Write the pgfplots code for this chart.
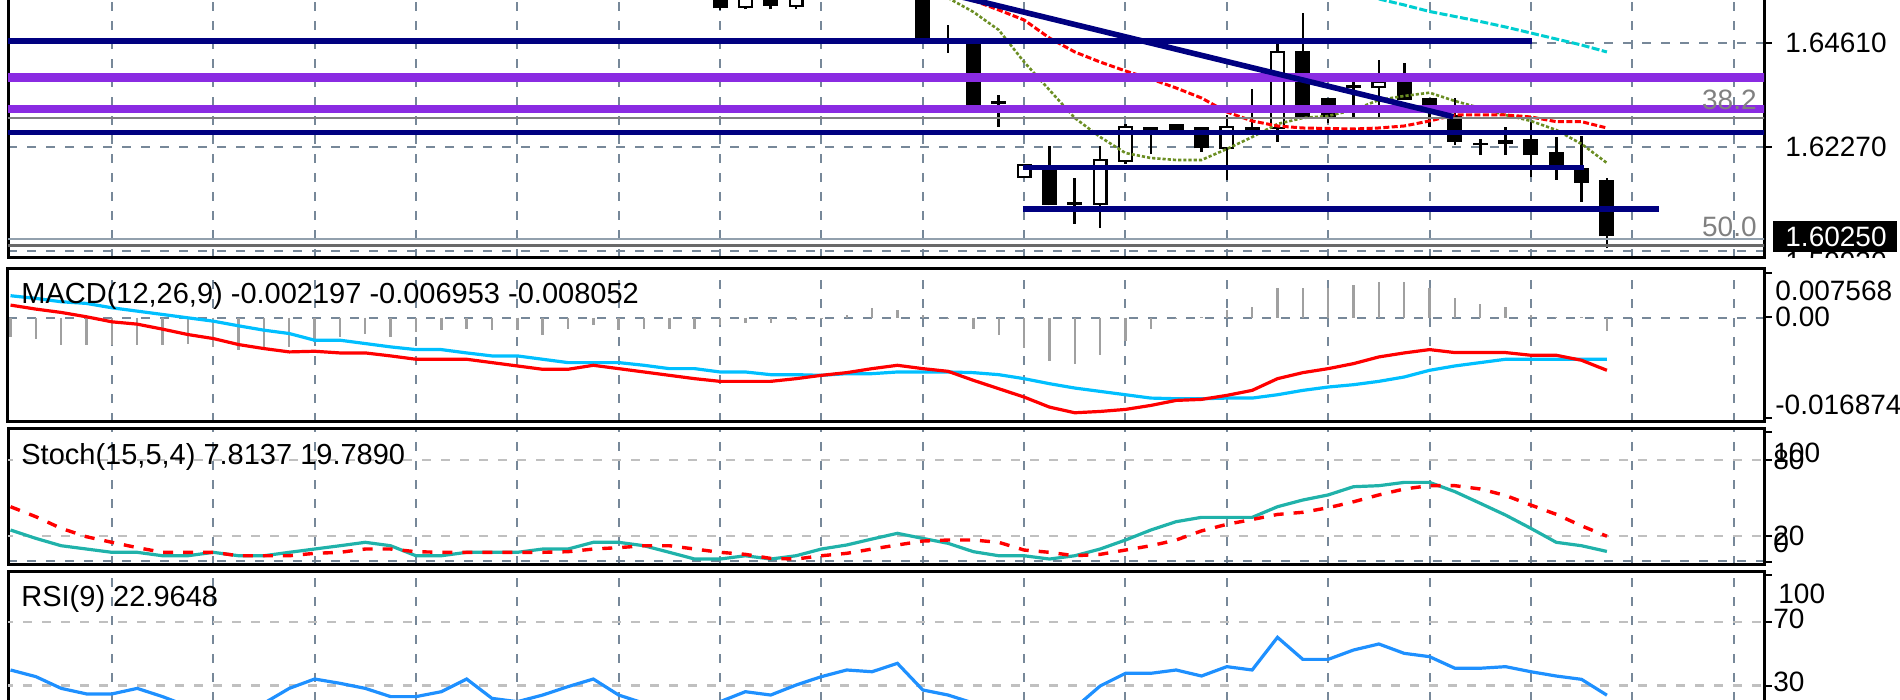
\documentclass[border=0pt]{standalone}
\usepackage{fontspec}
\setmainfont{Liberation Sans}
\usepackage{pgfplots}
\usepackage{pgfplotstable}
\pgfplotsset{compat=1.18}

\definecolor{mtnavy}{HTML}{000080}
\definecolor{mtviolet}{HTML}{8A2BE2}
\definecolor{mtgrid}{HTML}{778899}
\definecolor{mtsilver}{HTML}{C0C0C0}
\definecolor{mtolive}{HTML}{6B8E23}
\definecolor{mtturq}{HTML}{00CED1}
\definecolor{mtsky}{HTML}{00BFFF}
\definecolor{mtsea}{HTML}{20B2AA}
\definecolor{mtdodger}{HTML}{1E90FF}
\definecolor{mthist}{HTML}{A0A0A0}
\definecolor{mtdim}{HTML}{696969}
\definecolor{mtfib}{HTML}{808080}

% candles: x open high low close
\pgfplotstableread{
x o h l c
24 1.65620 1.65640 1.65350 1.65384
26 1.65620 1.65640 1.65362 1.65436
32 1.66250 1.66350 1.64709 1.64709
33 1.64700 1.65008 1.64379 1.64690
34 1.64597 1.64597 1.63209 1.63209
35 1.63290 1.63434 1.62720 1.63225
37 1.61746 1.62286 1.60950 1.60959
38 1.61026 1.61573 1.60531 1.60959
41 1.62707 1.62707 1.62106 1.62630
42 1.62781 1.62781 1.62630 1.62630
43 1.62707 1.62707 1.62158 1.62234
45 1.62707 1.63562 1.62600 1.62630
47 1.64430 1.65285 1.62945 1.62945
48 1.63359 1.63359 1.62797 1.62945
49 1.63659 1.63733 1.62945 1.63584
51 1.63733 1.64147 1.63321 1.63321
52 1.63359 1.63359 1.62720 1.63209
53 1.62984 1.63359 1.62308 1.62383
54 1.62360 1.62437 1.62083 1.62300
55 1.62421 1.62720 1.62083 1.62331
56 1.62437 1.62833 1.61595 1.62083
57 1.62158 1.62495 1.61521 1.61859
58 1.61784 1.62511 1.61033 1.61460
59 1.61521 1.61573 1.59984 1.60250
}\bear

\pgfplotstableread{
x o h l c
25 1.65420 1.65640 1.65362 1.65630
27 1.65436 1.65640 1.65362 1.65630
36 1.61595 1.61870 1.61580 1.61858
39 1.60981 1.62286 1.60448 1.61971
40 1.61955 1.62781 1.61881 1.62707
44 1.62234 1.62984 1.61521 1.62707
46 1.62684 1.64597 1.62383 1.64408
50 1.63607 1.64221 1.62945 1.63733
}\bull

% moving averages on the price panel
\pgfplotstableread{
x p
33 1.65616
34 1.65301
35 1.64896
36 1.64176
37 1.63546
38 1.62916
39 1.62488
40 1.62128
41 1.62016
42 1.61971
43 1.61971
44 1.62218
45 1.62488
46 1.62781
47 1.62916
48 1.62961
49 1.63096
50 1.63321
51 1.63411
52 1.63485
53 1.63298
54 1.63141
55 1.62984
56 1.62849
57 1.62646
58 1.62331
59 1.61904
}\olivema

\pgfplotstableread{
x p
34 1.65560
35 1.65346
36 1.65121
37 1.64716
38 1.64401
39 1.64176
40 1.63974
41 1.63794
42 1.63591
43 1.63366
44 1.63051
45 1.62849
46 1.62736
47 1.62691
48 1.62680
49 1.62668
50 1.62691
51 1.62736
52 1.62849
53 1.62984
54 1.62984
55 1.62984
56 1.62939
57 1.62833
58 1.62833
59 1.62691
}\redma

\pgfplotstableread{
x p
50 1.65593
51 1.65459
52 1.65312
53 1.65200
54 1.65087
55 1.64963
56 1.64828
57 1.64693
58 1.64558
59 1.64401
}\cyanma

% MACD: histogram, red line, blue line
\pgfplotstableread{
x h m s
-4 -0.00322 0.00211 0.00368
-3 -0.00349 0.00144 0.00323
-2 -0.00450 0.00088 0.00267
-1 -0.00450 0.00015 0.00239
0 -0.00450 -0.00069 0.00166
1 -0.00461 -0.00108 0.00110
2 -0.00450 -0.00192 0.00054
3 -0.00433 -0.00282 -0.00002
4 -0.00490 -0.00349 -0.00058
5 -0.00545 -0.00450 -0.00136
6 -0.00545 -0.00517 -0.00209
7 -0.00490 -0.00573 -0.00265
8 -0.00405 -0.00562 -0.00377
9 -0.00322 -0.00590 -0.00377
10 -0.00265 -0.00590 -0.00433
11 -0.00322 -0.00640 -0.00489
12 -0.00238 -0.00696 -0.00534
13 -0.00209 -0.00696 -0.00534
14 -0.00192 -0.00696 -0.00590
15 -0.00209 -0.00752 -0.00640
16 -0.00209 -0.00808 -0.00640
17 -0.00293 -0.00864 -0.00696
18 -0.00192 -0.00864 -0.00752
19 -0.00125 -0.00797 -0.00752
20 -0.00209 -0.00853 -0.00752
21 -0.00181 -0.00909 -0.00797
22 -0.00181 -0.00965 -0.00853
23 -0.00192 -0.01021 -0.00853
24 -0.00125 -0.01066 -0.00909
25 -0.00097 -0.01066 -0.00909
26 -0.00097 -0.01066 -0.00954
27 -0.00041 -0.01021 -0.00954
28 -0.00013 -0.00965 -0.00965
29 0.00043 -0.00920 -0.00937
30 0.00155 -0.00853 -0.00937
31 0.00127 -0.00797 -0.00909
32 0.00043 -0.00853 -0.00909
33 -0.00010 -0.00898 -0.00909
34 -0.00181 -0.01049 -0.00920
35 -0.00293 -0.01189 -0.00954
36 -0.00500 -0.01329 -0.01021
37 -0.00730 -0.01497 -0.01105
38 -0.00769 -0.01592 -0.01178
39 -0.00618 -0.01570 -0.01234
40 -0.00394 -0.01536 -0.01290
41 -0.00181 -0.01469 -0.01346
42 -0.00013 -0.01385 -0.01357
43 0.00005 -0.01368 -0.01357
44 0.00127 -0.01301 -0.01346
45 0.00182 -0.01217 -0.01346
46 0.00491 -0.01021 -0.01290
47 0.00491 -0.00920 -0.01217
48 0.00491 -0.00853 -0.01161
49 0.00547 -0.00769 -0.01122
50 0.00602 -0.00657 -0.01066
51 0.00602 -0.00590 -0.00993
52 0.00491 -0.00534 -0.00881
53 0.00334 -0.00584 -0.00808
54 0.00222 -0.00584 -0.00752
55 0.00182 -0.00584 -0.00696
56 0.00043 -0.00629 -0.00696
57 0.00015 -0.00629 -0.00696
58 0.00005 -0.00713 -0.00696
59 -0.00220 -0.00881 -0.00695
}\macd

% Stochastic: main (k) and signal (d)
\pgfplotstableread{
x k d
-4 24.7 43.1
-3 18.1 35.2
-2 12.3 26.0
-1 9.7 19.4
0 7.1 15.0
1 7.1 10.8
2 4.4 7.1
3 4.4 7.1
4 7.1 7.1
5 4.4 4.4
6 4.4 4.4
7 7.1 4.4
8 9.7 6.3
9 12.3 7.1
10 15.0 9.7
11 12.3 9.7
12 4.4 7.6
13 4.4 7.1
14 7.1 7.1
15 7.1 7.1
16 7.1 7.1
17 9.7 7.1
18 9.7 7.6
19 15.0 9.7
20 15.0 10.8
21 12.3 12.3
22 7.1 12.3
23 1.8 9.7
24 1.8 7.1
25 4.4 5.5
26 1.8 2.3
27 4.4 1.8
28 9.7 4.4
29 12.9 6.3
30 17.6 9.7
31 22.1 12.9
32 18.1 16.0
33 14.2 16.8
34 7.6 16.8
35 4.4 15.0
36 4.4 8.9
37 1.8 7.1
38 4.4 4.4
39 9.7 5.5
40 16.8 8.9
41 24.7 12.3
42 31.3 16.8
43 34.7 24.0
44 34.7 29.2
45 34.7 33.0
46 43.1 37.0
47 48.4 38.7
48 52.4 42.3
49 58.9 47.0
50 59.7 52.4
51 62.3 57.1
52 62.3 59.7
53 55.0 59.7
54 45.8 57.1
55 36.5 52.0
56 26.0 44.4
57 15.0 37.1
58 12.3 28.0
59 7.8 19.8
}\stoch

% RSI(9)
\pgfplotstableread{
x r
-4 39.9
-3 35.7
-2 28.3
-1 24.8
0 24.8
1 28.3
2 23.1
3 17.0
4 15.0
5 16.0
6 18.9
7 28.3
8 34.2
9 31.5
10 28.3
11 23.1
12 23.1
13 26.2
14 34.2
15 22.0
16 19.9
17 24.1
18 29.4
19 34.2
20 24.1
21 18.9
22 16.5
23 17.5
24 19.9
25 26.2
26 24.1
27 30.4
28 35.7
29 39.9
30 38.8
31 44.1
32 27.3
33 24.1
34 19.0
35 17.0
36 18.0
37 14.0
38 16.0
39 29.8
40 37.8
41 37.8
42 39.9
43 36.1
44 42.0
45 39.9
46 60.5
47 46.6
48 46.6
49 52.5
50 56.3
51 50.4
52 48.3
53 41.0
54 41.0
55 42.0
56 38.8
57 36.1
58 34.0
59 24.0
}\rsi

\pgfplotsset{
  mtpanel/.style={
    scale only axis, width=878pt, xmin=-4.1, xmax=65.2,
    xtick={0,4,...,64}, xticklabels={}, ytick=\empty,
    scaled x ticks=false, scaled y ticks=false,
    major tick length=0pt, xmajorgrids,
    grid style={color=mtgrid, line width=1pt, dash pattern=on 4.5pt off 5pt},
    axis line style={line width=1.5pt},
    anchor=south west,
  },
  wick/.style={draw=none, mark=none, error bars/.cd, y dir=plus, y explicit,
    error mark=none, error bar style={draw=black, line width=1.3pt, solid}},
  body/.style={draw=none, mark=none, error bars/.cd, y dir=plus, y explicit,
    error mark=none, error bar style={draw=#1, line width=7.5pt, solid}},
  level/.style={mark=none, line width=#1},
}

\newcommand{\mtf}{\fontsize{14}{14}\selectfont}
\newcommand{\mtt}{\fontsize{14.5}{14.5}\selectfont}

\begin{document}
\begin{tikzpicture}
\path[use as bounding box] (0pt,0pt) rectangle (950pt,350pt);
\begin{scope}
\clip (0pt,0pt) rectangle (950pt,350pt);

% ---------------- price panel
\begin{axis}[mtpanel, at={(4pt,221pt)}, height=134pt,
  ymin=1.59766, ymax=1.65796,
  ytick={1.5993,1.6227,1.6461}, yticklabels={}, ymajorgrids]
  \addplot[wick] table[x=x, y=l, y error plus expr=\thisrow{h}-\thisrow{l}] {\bear};
  \addplot[wick] table[x=x, y=l, y error plus expr=\thisrow{h}-\thisrow{l}] {\bull};
  \addplot[body=black] table[x=x, y=c, y error plus expr=\thisrow{o}-\thisrow{c}] {\bear};
  \addplot[body=black] table[x=x, y expr=\thisrow{o}-0.000225, y error plus expr=\thisrow{c}-\thisrow{o}+0.00045] {\bull};
  \addplot[draw=none, mark=none, error bars/.cd, y dir=plus, y explicit, error mark=none,
    error bar style={draw=white, line width=5.3pt, solid}]
    table[x=x, y expr=\thisrow{o}+0.000225, y error plus expr=\thisrow{c}-\thisrow{o}-0.00045] {\bull};

  \addplot[mtolive, line width=1.3pt, dash pattern=on 1.6pt off 1pt, mark=none] table[x=x, y=p] {\olivema};
  \addplot[red, line width=1.5pt, dash pattern=on 3pt off 1.2pt, mark=none] table[x=x, y=p] {\redma};
  \addplot[mtturq, line width=1.5pt, dash pattern=on 4pt off 1.2pt, mark=none] table[x=x, y=p] {\cyanma};

  \addplot[level=4.3pt, mtviolet] coordinates {(-5,1.63827) (66,1.63827)};
  \addplot[level=4.3pt, mtviolet] coordinates {(-5,1.63114) (66,1.63114)};
  \addplot[level=1.1pt, mtfib] coordinates {(-5,1.62909) (66,1.62909)};
  \addplot[level=1.1pt, mtgrid!80] coordinates {(-5,1.60193) (66,1.60193)};
  \addplot[level=1.3pt, mtdim] coordinates {(-5,1.60043) (66,1.60043)};
  \addplot[level=2.7pt, mtnavy] coordinates {(-5,1.64649) (56.06,1.64649)};
  \addplot[level=2.7pt, mtnavy] coordinates {(-5,1.62585) (66,1.62585)};
  \addplot[level=2.7pt, mtnavy] coordinates {(35.95,1.61798) (58.08,1.61798)};
  \addplot[level=2.7pt, mtnavy] coordinates {(35.95,1.60869) (61.07,1.60869)};
  \addplot[level=2.8pt, mtnavy] coordinates {(33,1.65714) (52.94,1.62945)};
\end{axis}

% ---------------- MACD panel
\begin{axis}[mtpanel, at={(4pt,139.15pt)}, height=76.7pt,
  ymin=-0.017414, ymax=0.008274, ytick={0}, yticklabels={}, ymajorgrids]
  \addplot[ycomb, mthist, line width=1.2pt, mark=none] table[x=x, y=h] {\macd};
  \addplot[mtsky, line width=1.6pt, mark=none] table[x=x, y=s] {\macd};
  \addplot[red, line width=1.6pt, mark=none] table[x=x, y=m] {\macd};
\end{axis}

% ---------------- Stochastic panel
\begin{axis}[mtpanel, at={(4pt,67.5pt)}, height=68.35pt,
  ymin=-2.9, ymax=105, ytick={0}, yticklabels={}, ymajorgrids]
  \addplot[mtsilver, line width=1.2pt, dash pattern=on 4.5pt off 5pt, mark=none] coordinates {(-5,80) (66,80)};
  \addplot[mtsilver, line width=1.2pt, dash pattern=on 4.5pt off 5pt, mark=none] coordinates {(-5,20) (66,20)};
  \addplot[mtsea, line width=1.6pt, mark=none] table[x=x, y=k] {\stoch};
  \addplot[red, line width=1.7pt, dash pattern=on 5pt off 5pt, mark=none] table[x=x, y=d] {\stoch};
\end{axis}

% ---------------- RSI panel
\begin{axis}[mtpanel, at={(4pt,-10pt)}, height=74.15pt, ymin=8.36, ymax=101.9]
  \addplot[mtsilver, line width=1.2pt, dash pattern=on 4.5pt off 5pt, mark=none] coordinates {(-5,70) (66,70)};
  \addplot[mtsilver, line width=1.2pt, dash pattern=on 4.5pt off 5pt, mark=none] coordinates {(-5,30) (66,30)};
  \addplot[mtdodger, line width=1.6pt, mark=none] table[x=x, y=r] {\rsi};
\end{axis}

% fibo level captions
\node[anchor=east, inner sep=0pt, text=mtfib, font=\mtf] at (878.5pt,300pt) {38.2};
\node[anchor=east, inner sep=0pt, text=mtfib, font=\mtf] at (878.5pt,236.6pt) {50.0};

% indicator captions
\node[anchor=west, inner sep=0pt, font=\mtt] at (10.5pt,202.2pt) {MACD(12,26,9) -0.002197 -0.006953 -0.008052};
\node[anchor=west, inner sep=0pt, font=\mtt] at (10.5pt,121.5pt) {Stoch(15,5,4) 7.8137 19.7890};
\node[anchor=west, inner sep=0pt, font=\mtt] at (10.5pt,50.5pt) {RSI(9) 22.9648};

% right scale
\foreach \yy in {328.65,276.65,213.5,191.5,141,134,120,82,69,62.5,39,7}
  \draw[line width=1pt] (882pt,\yy pt) -- (886pt,\yy pt);
\node[anchor=west, inner sep=0pt, font=\mtf] at (892.5pt,328.65pt) {1.64610};
\node[anchor=west, inner sep=0pt, font=\mtf] at (892.5pt,276.65pt) {1.62270};
\begin{scope}
  \clip (880pt,221pt) rectangle (950pt,225pt);
  \node[anchor=west, inner sep=0pt, font=\mtf] at (892.5pt,219pt) {1.59930};
\end{scope}
\fill[black] (886.5pt,224pt) rectangle (948.5pt,239.5pt);
\node[anchor=west, inner sep=0pt, font=\mtf, text=white] at (892.5pt,231.75pt) {1.60250};

\node[anchor=west, inner sep=0pt, font=\mtf] at (887.5pt,204.5pt) {0.007568};
\node[anchor=west, inner sep=0pt, font=\mtf] at (887.5pt,191.5pt) {0.00};
\node[anchor=west, inner sep=0pt, font=\mtf] at (887.5pt,147.5pt) {-0.016874};

% the stochastic scale labels overlap in pairs, as in the source
\node[anchor=west, inner sep=0pt, font=\mtf] at (886.5pt,123.5pt) {100};
\node[anchor=west, inner sep=0pt, font=\mtf] at (886.5pt,120pt) {80};
\node[anchor=west, inner sep=0pt, font=\mtf] at (886.5pt,82pt) {20};
\node[anchor=west, inner sep=0pt, font=\mtf] at (886.5pt,78.5pt) {0};

\node[anchor=west, inner sep=0pt, font=\mtf] at (889pt,53pt) {100};
\node[anchor=west, inner sep=0pt, font=\mtf] at (886.5pt,40.5pt) {70};
\node[anchor=west, inner sep=0pt, font=\mtf] at (886.5pt,9pt) {30};
\end{scope}
\end{tikzpicture}
\end{document}
